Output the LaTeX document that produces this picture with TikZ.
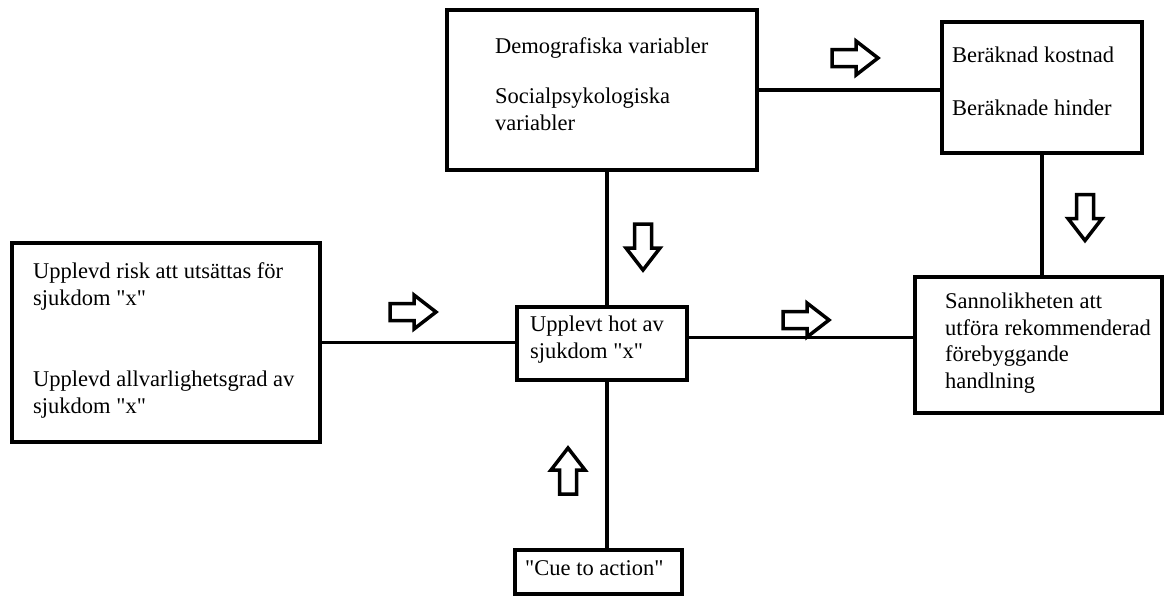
\documentclass[tikz,border=0pt]{standalone}
\usepackage{fontspec}
\setmainfont{Liberation Serif}[Ligatures=TeXOff]

\tikzset{
  box/.style={draw, line width=4.5pt, rectangle, inner sep=0pt},
  link/.style={line width=3.8pt},
  txt/.style={anchor=base west, align=left, inner sep=0pt, font=\fontsize{22.5}{26.5}\selectfont},
  pics/hollowarrow/.style={code={
    \draw[line width=3.5pt, line join=miter]
      (-23,-8.5) -- (1,-8.5) -- (1,-17) -- (23,0) -- (1,17) -- (1,8.5) -- (-23,8.5) -- cycle;
  }},
}

\begin{document}
\begin{tikzpicture}[x=1pt,y=1pt,yscale=-1]
\useasboundingbox (0,0) rectangle (1167,597);

% Boxes
\node[box, minimum width=310, minimum height=160] (demo) at (602,90) {};
\node[box, minimum width=200, minimum height=131] (kost) at (1042,87.5) {};
\node[box, minimum width=308, minimum height=199] (risk) at (166,342.5) {};
\node[box, minimum width=170, minimum height=73] (hot) at (602,343.5) {};
\node[box, minimum width=247, minimum height=136] (sann) at (1038.5,345) {};
\node[box, minimum width=167, minimum height=44] (cue) at (598.5,572) {};

% Lines
\coordinate (spine) at (607,0);
\draw[link] (demo.south -| spine) -- (hot.north -| spine);
\draw[link] (hot.south -| spine) -- (cue.north -| spine);
\draw[link] (demo.east) -- (demo.east -| kost.west);
\draw[link] (kost.south) -- (kost.south |- sann.north);
\draw[link] (risk.east) -- (risk.east -| hot.west);
\draw[link] ([yshift=-6pt]hot.east) -- ([yshift=-6pt]hot.east -| sann.west);

% Hollow arrows
\pic (a-risk) at (413,312) {hollowarrow};
\pic (a-hot) at (806,320) {hollowarrow};
\pic (a-demo) at (855,58) {hollowarrow};
\pic[rotate=-90] (a-down) at (643,247) {hollowarrow};
\pic[rotate=-90] (a-kost) at (1085,217.5) {hollowarrow};
\pic[rotate=90] (a-cue) at (568,471) {hollowarrow};

% Text (base = last line)
\node[txt] (t-demo1) at (495,53) {Demografiska variabler};
\node[txt] (t-demo2) at (495,130) {Socialpsykologiska\\variabler};
\node[txt] (t-kost1) at (952,62) {Beräknad kostnad};
\node[txt] (t-kost2) at (952,115) {Beräknade hinder};
\node[txt] (t-risk1) at (33,305) {Upplevd risk att utsättas för\\sjukdom "x"};
\node[txt] (t-risk2) at (33,413) {Upplevd allvarlighetsgrad av\\sjukdom "x"};
\node[txt] (t-hot) at (530,358) {Upplevt hot av\\sjukdom "x"};
\node[txt] (t-sann) at (945,388) {Sannolikheten att\\utföra rekommenderad\\förebyggande\\handlning};
\node[txt] (t-cue) at (525,575) {"Cue to action"};

\end{tikzpicture}
\end{document}
